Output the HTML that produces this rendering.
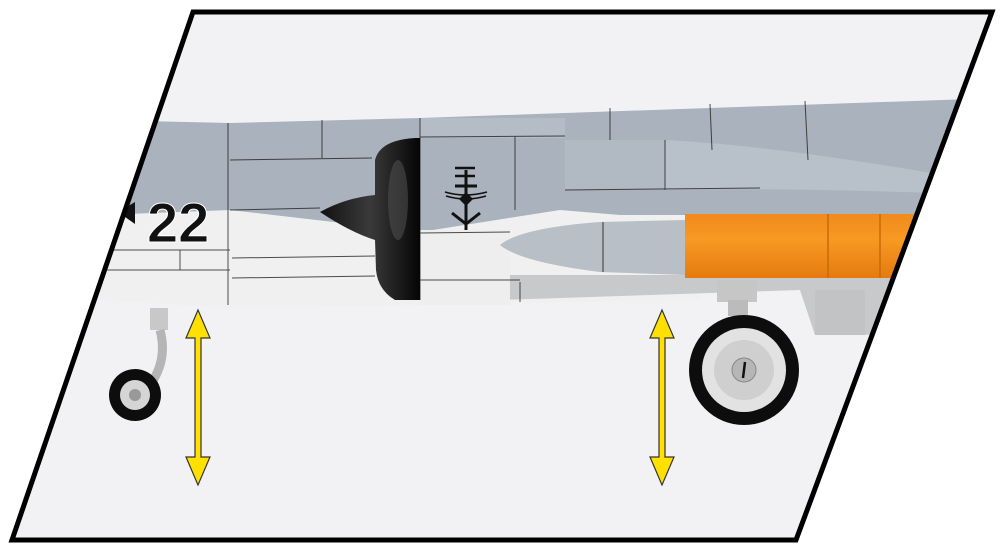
<!DOCTYPE html>
<html><head><style>
html,body{margin:0;padding:0;background:#fff;width:1000px;height:552px;overflow:hidden}
svg{display:block}
</style></head><body>
<svg width="1000" height="552" viewBox="0 0 1000 552" xmlns="http://www.w3.org/2000/svg">
<defs>
<clipPath id="pg"><polygon points="193,12 992,12 796,540 12,540"/></clipPath>
<linearGradient id="org" x1="0" y1="0" x2="0" y2="1"><stop offset="0" stop-color="#f08a1c"/><stop offset="0.4" stop-color="#f79a22"/><stop offset="1" stop-color="#e57a10"/></linearGradient>
<linearGradient id="blk" x1="0" y1="0" x2="1" y2="0"><stop offset="0" stop-color="#111"/><stop offset="0.5" stop-color="#3a3a3a"/><stop offset="1" stop-color="#050505"/></linearGradient>
</defs>
<polygon points="193,12 992,12 796,540 12,540" fill="#f2f2f4"/>
<g clip-path="url(#pg)">
 <polygon points="100,205 700,205 700,300 420,305 230,308 100,300" fill="#f0f0f0"/>
 <polygon points="500,275 1000,275 1000,330 860,335 815,335 800,290 500,300" fill="#c8c9cb"/>
 <rect x="815" y="290" width="50" height="45" fill="#c2c3c5"/>
 <polygon points="100,120 230,123 420,118 1000,98 1000,215 620,215 560,210 420,232 230,210 100,215" fill="#a9b2bd"/>
 <rect x="420" y="118" width="145" height="20" fill="#b4bcc6"/>
 <rect x="565" y="140" width="100" height="50" fill="#b1b9c3"/>
 <path d="M665,140 C760,145 860,160 1000,185 L1000,195 C850,190 760,188 665,190 Z" fill="#b8c0ca"/>
 <rect x="420" y="230" width="90" height="75" fill="#eeeeee"/>
 <g stroke="#222" stroke-width="1" fill="none" opacity="0.8">
  <line x1="228" y1="123" x2="228" y2="305"/>
  <line x1="322" y1="120" x2="322" y2="158"/>
  <line x1="230" y1="160" x2="372" y2="158"/>
  <line x1="230" y1="210" x2="320" y2="208"/>
  <line x1="232" y1="258" x2="375" y2="256"/>
  <line x1="232" y1="278" x2="375" y2="276"/>
  <line x1="100" y1="250" x2="230" y2="250"/>
  <line x1="100" y1="270" x2="230" y2="270"/>
  <line x1="180" y1="250" x2="180" y2="270"/>
  <line x1="420" y1="118" x2="420" y2="300"/>
  <line x1="420" y1="137" x2="565" y2="136"/>
  <line x1="515" y1="136" x2="515" y2="210"/>
  <line x1="420" y1="233" x2="510" y2="232"/>
  <line x1="420" y1="280" x2="520" y2="280"/>
  <line x1="610" y1="108" x2="610" y2="140"/>
  <line x1="710" y1="104" x2="712" y2="150"/>
  <line x1="805" y1="101" x2="808" y2="160"/>
  <line x1="665" y1="140" x2="665" y2="190"/>
  <line x1="565" y1="190" x2="760" y2="188"/>
  <line x1="520" y1="282" x2="520" y2="302"/>
 </g>
 <path d="M375,160 Q380,140 415,138 L420,138 L420,300 L395,300 Q378,290 376,270 L375,240 Q350,232 320,212 Q345,198 375,195 Z" fill="url(#blk)"/>
 <ellipse cx="398" cy="200" rx="10" ry="40" fill="#555" opacity="0.5"/>
 <g stroke="#111" stroke-width="3" fill="none">
  <path d="M455,168 h20 M455,176 h20" stroke-width="2.5"/>
  <line x1="466" y1="170" x2="466" y2="230"/>
  <line x1="455" y1="186" x2="477" y2="186"/>
  <path d="M445,192 q20,6 42,0 M446,196 q20,6 40,0" stroke-width="1.5"/>
  <path d="M452,213 L466,224 L480,213"/>
 </g>
 <polygon points="466,192 473,199 466,206 459,199" fill="#111"/>
 <path d="M500,245 Q520,228 600,222 L685,220 L685,275 L600,272 Q520,262 500,245 Z" fill="#b9bfc6"/>
 <line x1="603" y1="222" x2="603" y2="272" stroke="#333" stroke-width="1"/>
 <rect x="685" y="214" width="330" height="64" fill="url(#org)"/>
 <line x1="828" y1="214" x2="828" y2="278" stroke="#c86a0a" stroke-width="1.5"/>
 <line x1="880" y1="214" x2="880" y2="278" stroke="#c86a0a" stroke-width="1.5"/>
 <text x="147" y="242" font-family="Liberation Sans, sans-serif" font-weight="bold" font-size="56" fill="#111" stroke="#fff" stroke-width="1">22</text>
 <polygon points="118,212 135,202 135,224" fill="#111"/>
</g>
<rect x="717" y="280" width="40" height="22" fill="#c6c6c6"/>
<rect x="728" y="300" width="20" height="16" fill="#bbb"/>
<circle cx="744" cy="370" r="55" fill="#0d0d0d"/>
<circle cx="744" cy="370" r="42" fill="#e2e2e2"/>
<circle cx="744" cy="370" r="30" fill="#cfcfcf"/>
<circle cx="744" cy="370" r="12" fill="#b6b6b6" stroke="#888"/>
<line x1="745" y1="362" x2="743" y2="378" stroke="#111" stroke-width="2.5"/>
<rect x="150" y="308" width="18" height="22" fill="#c8c8c8"/>
<path d="M160,330 Q168,360 150,385" stroke="#b5b5b5" stroke-width="9" fill="none"/>
<circle cx="135" cy="395" r="26" fill="#0d0d0d"/>
<circle cx="135" cy="395" r="15" fill="#d5d5d5"/>
<circle cx="135" cy="395" r="6" fill="#999"/>
<polygon points="193,12 992,12 796,540 12,540" fill="none" stroke="#000" stroke-width="5" stroke-linejoin="miter"/>
<g fill="#ffe000" stroke="#333" stroke-width="1.2">
 <polygon points="198,310 210,338 201,338 201,457 210,457 198,485 186,457 195,457 195,338 186,338"/>
 <polygon points="662,310 674,338 665,338 665,457 674,457 662,485 650,457 659,457 659,338 650,338"/>
</g>
</svg>
</body></html>
